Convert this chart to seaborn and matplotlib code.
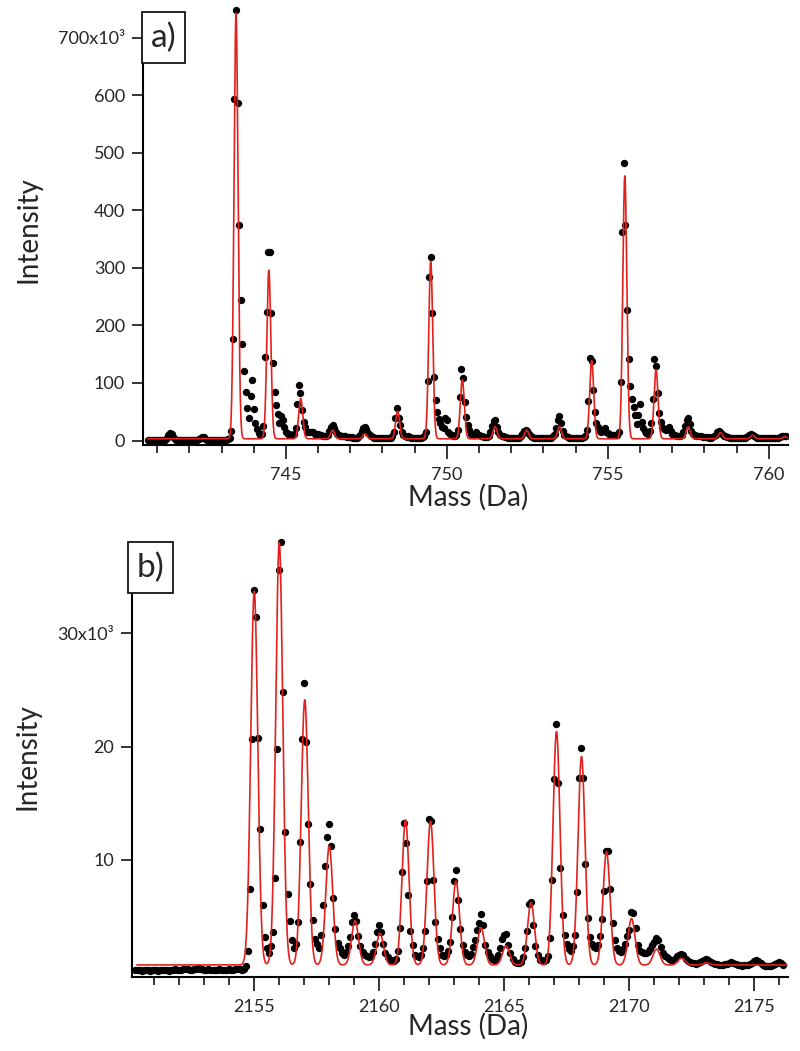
import numpy as np
import pandas as pd
import matplotlib
matplotlib.use("Agg")
import matplotlib.pyplot as plt
from matplotlib.patches import Rectangle
import seaborn as sns

# ---- panel a: measured spectrum (intensity in 10^3), grid starts 740.70, step 0.05 Da ----
a_start = 740.70
a_step = 0.05
a_dots = [
    0.8, 1.0, 0.9, 1.2, 0.8, 1.0,
    1.0, 1.1, 0.9, 1.0, 1.2, 1.6, 4.0, 9.0, 12.5, 11.0, 6.0, 2.5, 1.2, 1.0, 0.9, 1.0, 0.8, 1.0, 1.1, 0.9,
    1.0, 0.9, 1.0, 0.8, 1.0, 1.1, 2.0, 5.0, 6.6, 5.5, 3.0, 1.5, 1.0, 0.9, 0.8, 1.0, 1.1, 0.9, 1.0, 1.0,
    1.0, 0.8, 1.0, 1.2, 2.0, 4.0, 17, 176, 594, 749, 587, 374, 244, 168, 120, 85, 56, 39, 77, 105,
    54, 30, 20, 13, 10, 11, 25, 145, 223, 327, 328, 221, 134, 85, 62, 46, 31, 43, 36, 23,
    15, 12, 11, 10, 10, 12, 21, 63, 96, 82, 53, 33, 23, 15, 14, 14, 15, 14, 11, 10,
    11, 10, 9, 8, 8, 8, 10, 16, 24, 27, 21, 14, 11, 9, 8, 7, 7, 7, 6, 6,
    6, 6, 5, 5, 5, 6, 9, 16, 22, 24, 20, 13, 9, 7, 6, 5, 5, 5, 4, 4,
    4, 4, 4, 4, 4, 5, 8, 15, 40, 57, 39, 27, 15, 10, 8, 6, 7, 6, 5, 5,
    5, 5, 5, 5, 5, 6, 8, 14, 104, 285, 319, 222, 110, 70, 50, 38, 30, 24, 21, 39,
    36, 15, 12, 9, 8, 7, 10, 19, 76, 124, 108, 67, 41, 27, 18, 12, 10, 9, 15, 12,
    9, 8, 7, 6, 6, 6, 8, 14, 26, 34, 36, 24, 14, 10, 8, 7, 6, 6, 5, 5,
    5, 5, 5, 5, 5, 5, 7, 11, 16, 19, 17, 12, 8, 6, 5, 5, 5, 5, 4, 4,
    4, 4, 4, 4, 4, 5, 7, 12, 22, 36, 43, 30, 16, 10, 7, 6, 5, 5, 5, 5,
    5, 5, 5, 5, 5, 6, 8, 18, 69, 143, 139, 87, 50, 30, 23, 16, 15, 18, 21, 14,
    13, 11, 10, 9, 9, 9, 10, 14, 101, 363, 482, 375, 227, 142, 95, 72, 58, 44, 29, 44,
    63, 33, 21, 16, 13, 12, 17, 30, 73, 141, 130, 82, 47, 33, 24, 20, 18, 20, 24, 16,
    12, 10, 9, 8, 8, 8, 10, 15, 25, 35, 39, 28, 16, 11, 9, 8, 7, 7, 7, 6,
    6, 6, 6, 5, 5, 6, 7, 10, 14, 16, 15, 11, 8, 7, 6, 6, 5, 5, 5, 5,
    5, 5, 5, 5, 5, 5, 6, 8, 10, 11, 10, 8, 6, 5, 5, 5, 5, 5, 5, 5,
    5, 5, 5, 5, 5, 5, 5, 6, 7, 8, 8, 7,
]

# fitted isotope peaks, panel a
a_centers = [743.45, 744.47, 745.46, 746.45, 747.45, 748.47, 749.50, 750.48, 751.50,
             752.48, 753.50, 754.50, 755.53, 756.50, 757.50, 758.50, 759.50, 760.50]
a_heights = [740, 293, 70, 15, 9, 48, 308, 103, 21, 15, 21, 136, 457, 120, 21, 11, 6, 4]
a_base = 3.0
a_sigma = 0.062

# ---- panel b: measured spectrum (intensity in 10^3), grid starts 2150.25, step 1/12 Da ----
b_start = 2150.25
b_step = 1 / 12
b_dots = [
    0.25, 0.3, 0.25,
    0.2, 0.25, 0.3, 0.25, 0.2, 0.25, 0.3, 0.25, 0.2, 0.25, 0.3, 0.3,
    0.25, 0.2, 0.25, 0.3, 0.35, 0.3, 0.25, 0.3, 0.35, 0.4, 0.35, 0.3,
    0.3, 0.35, 0.4, 0.45, 0.4, 0.35, 0.3, 0.3, 0.35, 0.3, 0.25, 0.3,
    0.3, 0.35, 0.3, 0.3, 0.25, 0.3, 0.35, 0.3, 0.3, 0.35, 0.4, 0.35,
    0.3, 0.35, 0.6, 2.0, 7.4, 20.7, 33.8, 31.4, 20.8, 12.7, 6.0, 3.2,
    2.2, 1.8, 2.4, 3.6, 8.4, 19.8, 35.6, 38.1, 24.8, 12.5, 7.0, 4.6,
    2.9, 2.2, 2.6, 4.5, 11.6, 20.7, 25.6, 20.4, 13.2, 7.9, 4.7, 3.0,
    2.6, 2.2, 3.4, 6.0, 9.5, 12.0, 13.2, 11.2, 6.6, 3.9, 2.7, 2.2,
    1.8, 1.6, 1.9, 2.4, 3.2, 4.5, 5.1, 4.6, 3.3, 2.4, 1.9, 1.6,
    1.5, 1.4, 1.5, 1.9, 2.6, 3.6, 4.3, 3.6, 2.6, 1.8, 1.4, 1.2,
    1.2, 1.1, 1.3, 2.0, 4.0, 8.9, 13.3, 11.5, 6.9, 3.7, 2.5, 1.6,
    1.5, 1.4, 1.6, 2.2, 3.7, 8.1, 13.6, 13.4, 8.2, 4.5, 3.0, 2.2,
    1.6, 1.5, 1.6, 2.0, 2.8, 5.0, 8.1, 9.1, 6.5, 3.9, 2.5, 1.9,
    1.6, 1.5, 1.7, 2.3, 2.9, 3.8, 4.4, 5.2, 4.3, 2.5, 1.9, 1.5,
    1.3, 1.2, 1.3, 1.6, 2.2, 3.0, 3.4, 3.5, 2.5, 1.8, 1.3, 1.0,
    0.9, 0.9, 1.0, 1.4, 2.2, 3.7, 6.1, 6.3, 4.3, 2.4, 1.6, 1.2,
    1.2, 1.1, 1.2, 1.5, 3.1, 8.2, 17.1, 22.0, 16.8, 9.3, 5.1, 3.4,
    2.6, 2.1, 2.0, 2.4, 3.4, 7.2, 17.2, 19.9, 17.2, 9.6, 4.9, 3.2,
    2.6, 2.3, 2.2, 2.5, 3.3, 4.8, 7.3, 10.8, 10.8, 7.4, 4.4, 2.9,
    2.2, 2.0, 1.9, 2.1, 2.6, 3.3, 3.8, 5.4, 5.3, 4.0, 2.5, 2.0,
    1.9, 1.8, 1.8, 1.9, 2.1, 2.5, 2.8, 3.1, 2.9, 2.3, 1.8, 1.5,
    1.4, 1.3, 1.2, 1.2, 1.3, 1.5, 1.6, 1.7, 1.6, 1.3, 1.1, 1.0,
    0.9, 0.9, 0.8, 0.9, 1.0, 1.1, 1.2, 1.3, 1.2, 1.0, 0.9, 0.8,
    0.8, 0.7, 0.7, 0.7, 0.8, 0.8, 0.9, 1.0, 0.9, 0.8, 0.7, 0.7,
    0.6, 0.7, 0.7, 0.7, 0.8, 0.9, 1.1, 1.2, 1.1, 0.9, 0.7, 0.6,
    0.6, 0.6, 0.6, 0.7, 0.8, 0.9, 1.0, 0.9, 0.7,
]

# fitted isotope peaks, panel b
b_centers = [2155.00, 2156.00, 2157.02, 2158.00, 2159.03, 2160.03, 2161.05, 2162.05, 2163.07,
             2164.07, 2165.07, 2166.07, 2167.09, 2168.09, 2169.09, 2170.09, 2171.09, 2172.09, 2173.09]
b_heights = [33.0, 37.3, 23.4, 10.5, 3.9, 2.8, 12.8, 12.7, 7.4, 3.3, 1.7, 5.5,
             20.6, 18.4, 10.0, 4.1, 1.4, 0.6, 0.2]
b_base = 0.73
b_sigma = 0.14

a_yticks = [0, 100, 200, 300, 400, 500, 600, 700]
a_yticklabels = ["0", "100", "200", "300", "400", "500", "600", "700x10\u00b3"]
b_yticks = [10, 20, 30]
b_yticklabels = ["10", "20", "30x10\u00b3"]


def fit_curve(mass, centers, heights, sigma, base):
    y = np.full_like(mass, base)
    for c, h in zip(centers, heights):
        y = y + h * np.exp(-0.5 * ((mass - c) / sigma) ** 2)
    return y


sns.set_style("ticks")
plt.rcParams["font.family"] = ["Lato", "DejaVu Sans"]

fig = plt.figure(figsize=(8, 10.51), dpi=100)
ax_a = fig.add_axes([143 / 800, 1 - 445 / 1051, 645 / 800, 440 / 1051])
ax_b = fig.add_axes([132 / 800, 1 - 977 / 1051, 656 / 800, 440 / 1051])

red = "#e3201b"

panels = [
    (ax_a, a_start, a_step, a_dots, a_centers, a_heights, a_sigma, a_base,
     (740.56, 760.6), (-7.8, 757), 656, a_yticks, a_yticklabels, 745, (740.7, 760.6)),
    (ax_b, b_start, b_step, b_dots, b_centers, b_heights, b_sigma, b_base,
     (2150.11, 2176.35), (-0.33, 38.5), 33.5, b_yticks, b_yticklabels, 2155, (2150.3, 2176.3)),
]

for (ax, start, step, dots, centers, heights, sigma, base,
     xlim, ylim, spine_top, yticks, yticklabels, first_major, line_span) in panels:
    df = pd.DataFrame({"mass": start + step * np.arange(len(dots)), "intensity": dots})
    sns.scatterplot(data=df, x="mass", y="intensity", color="black", s=28,
                    linewidth=0, ax=ax, zorder=2)

    fine = np.linspace(line_span[0], line_span[1], 5000)
    fit = pd.DataFrame({"mass": fine, "intensity": fit_curve(fine, centers, heights, sigma, base)})
    sns.lineplot(data=fit, x="mass", y="intensity", color=red, linewidth=1.2,
                 estimator=None, sort=False, ax=ax, zorder=3)

    ax.set_xlim(*xlim)
    ax.set_ylim(*ylim)
    sns.despine(ax=ax)
    for side in ["left", "bottom"]:
        ax.spines[side].set_linewidth(1.5)
        ax.spines[side].set_color("black")
    ax.spines["left"].set_bounds(ylim[0], spine_top)

    ax.set_yticks(yticks)
    ax.set_yticklabels(yticklabels)
    majors = np.arange(first_major, xlim[1], 5)
    ax.set_xticks(majors)
    ax.set_xticklabels([str(int(m)) for m in majors])
    ax.set_xticks(np.arange(np.ceil(xlim[0]), xlim[1], 1), minor=True)
    ax.tick_params(axis="y", direction="out", length=8, width=1.1, color="black",
                   labelsize=13, pad=5)
    ax.tick_params(axis="x", which="major", direction="out", length=10, width=1.1,
                   color="black", labelsize=13, pad=6)
    ax.tick_params(axis="x", which="minor", direction="out", length=5.5, width=1.1,
                   color="black")

    ax.set_xlabel("Mass (Da)", fontsize=20)
    ax.set_ylabel("Intensity", fontsize=20)
    ax.xaxis.label.set_va("center")
    ax.yaxis.label.set_va("center")
    ax.grid(False)

ax_a.xaxis.set_label_coords(0.504, -0.118)
ax_a.yaxis.set_label_coords(-0.178, 0.489)
ax_b.xaxis.set_label_coords(0.512, -0.113)
ax_b.yaxis.set_label_coords(-0.159, 0.5)

# panel tags
for label, (x0, y0, x1, y1) in [("a)", (142, 12, 185, 63)), ("b)", (128, 542, 173, 593))]:
    fig.add_artist(Rectangle((x0 / 800, 1 - y1 / 1051), (x1 - x0) / 800, (y1 - y0) / 1051,
                             transform=fig.transFigure, facecolor="white",
                             edgecolor="black", linewidth=1.2, zorder=10))
    fig.text((x0 + x1) / 2 / 800, 1 - (y0 + y1) / 2 / 1051, label, ha="center",
             va="center", fontsize=24, zorder=11)

fig.savefig("out.png", dpi=100)
